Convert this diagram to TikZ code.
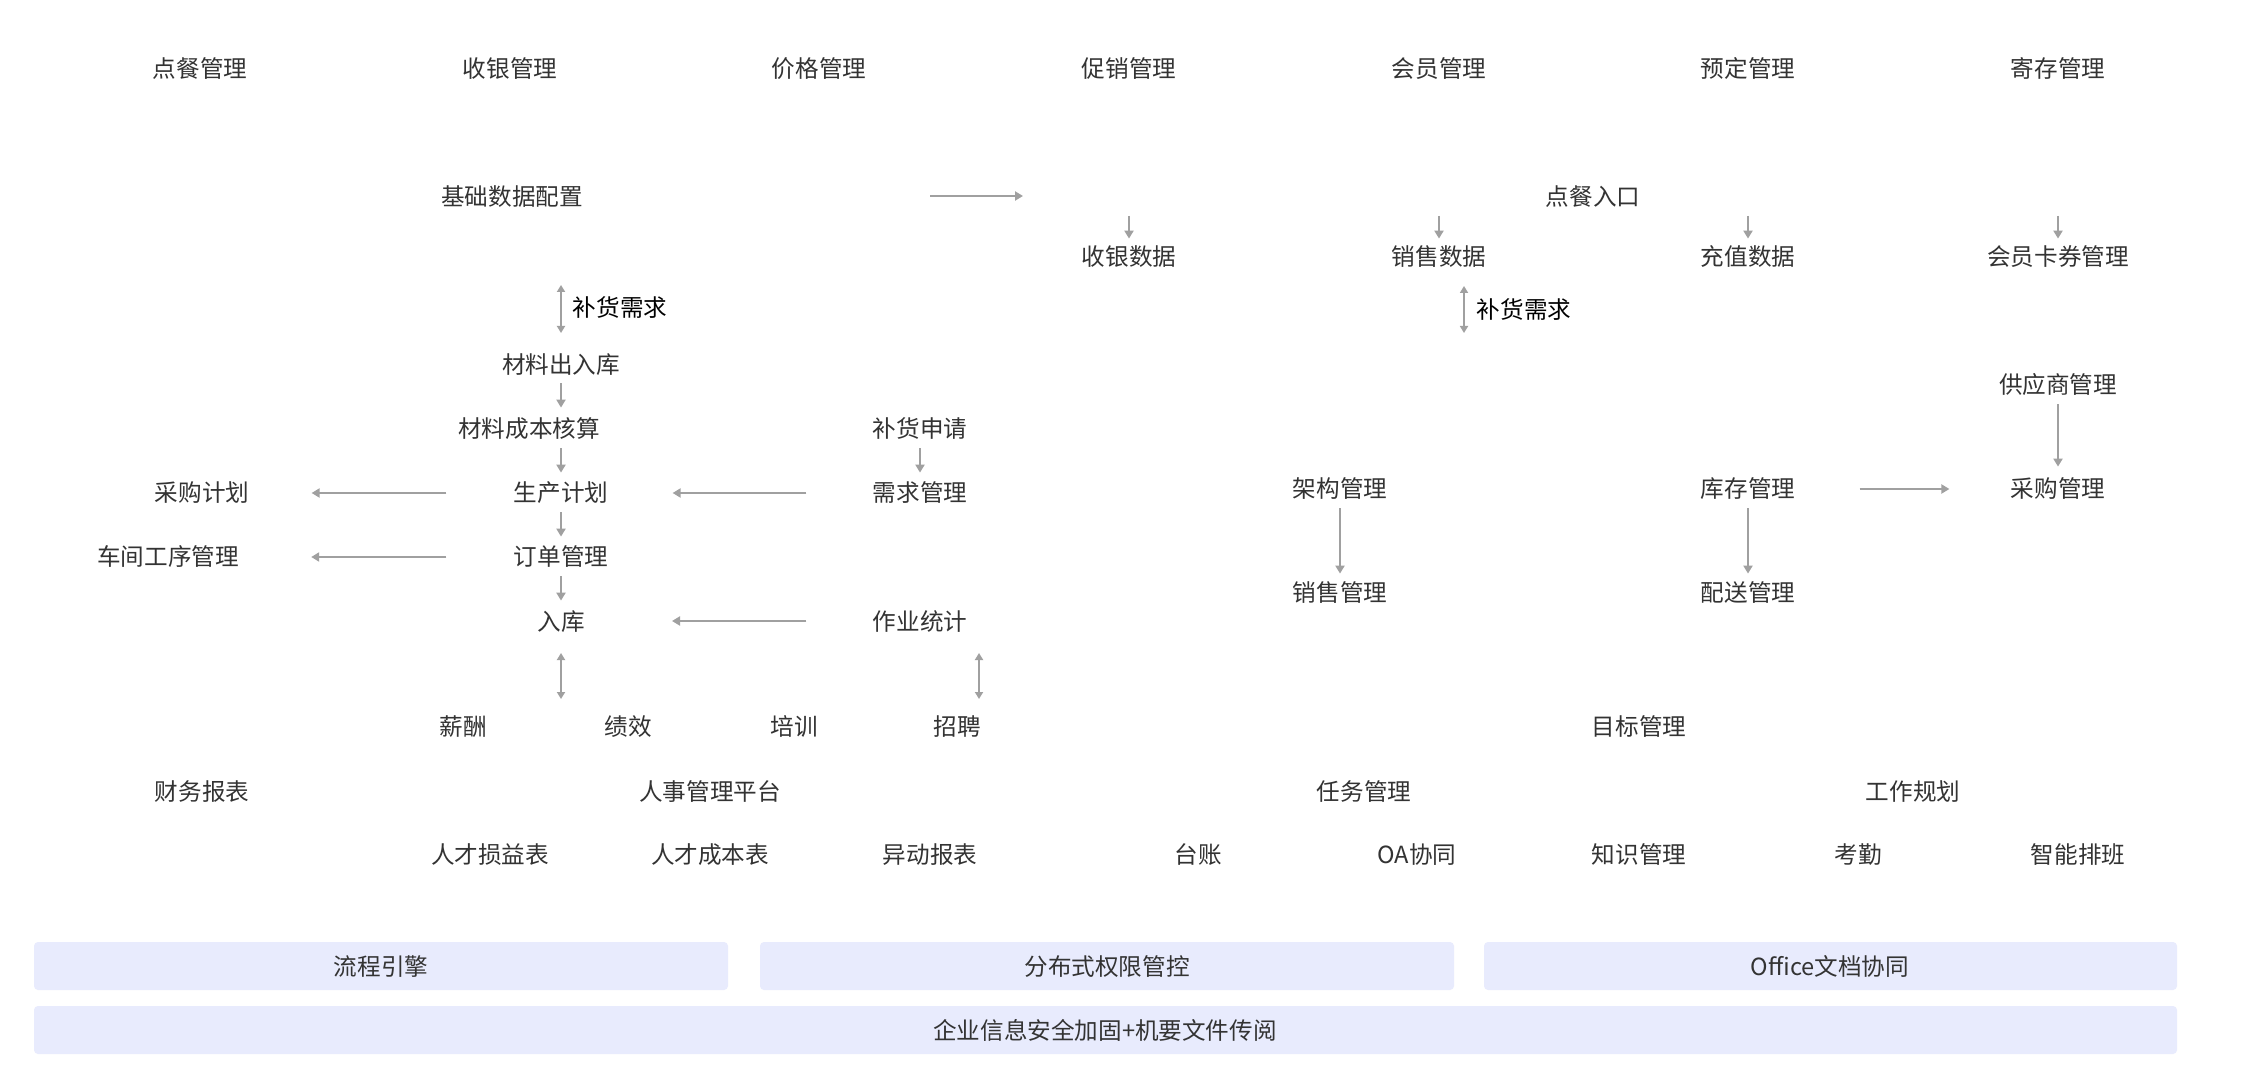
\documentclass[tikz,border=0pt]{standalone}
\usepackage{fontspec}
\setmainfont{Noto Sans CJK SC}
\usetikzlibrary{arrows.meta}
\definecolor{txt}{HTML}{333333}
\definecolor{arrc}{HTML}{A0A0A0}
\definecolor{boxfill}{HTML}{E8EBFD}
\tikzset{
  lbl/.style={inner sep=0pt, text height=10.5pt, text depth=1.5pt, text=txt,
    font=\fontsize{11.8}{14}\selectfont},
  lblk/.style={lbl, text=black},
  arr/.style={draw=arrc, line width=1pt, -{Triangle[length=4pt,width=4.5pt]}},
  darr/.style={draw=arrc, line width=0.9pt, {Triangle[length=3.5pt,width=4pt]}-{Triangle[length=3.5pt,width=4pt]}},
  band/.style={fill=boxfill, rounded corners=2pt, draw=none}
}
\begin{document}
\begin{tikzpicture}[x=0.5pt,y=-0.5pt]
\useasboundingbox (0,0) rectangle (2260,1080);
\fill[white] (0,0) rectangle (2260,1080);
% row 1
\node[lbl] (dcgl) at (200,69) {点餐管理};
\node[lbl] (sygl) at (510,69) {收银管理};
\node[lbl] (jggl) at (819,69) {价格管理};
\node[lbl] (cxgl) at (1129,69) {促销管理};
\node[lbl] (hygl) at (1439,69) {会员管理};
\node[lbl] (ydgl) at (1748,69) {预定管理};
\node[lbl] (jcgl) at (2058,69) {寄存管理};
% row 2
\node[lbl] (jcsj) at (512,197) {基础数据配置};
\node[lbl] (dcrk) at (1593,197) {点餐入口};
\coordinate (ja1) at (930,196);
\coordinate (ja2) at (1023,196);
\draw[arr] (ja1) -- (ja2);
% row 3
\node[lbl] (sysj) at (1129,257) {收银数据};
\node[lbl] (xssj) at (1439,257) {销售数据};
\node[lbl] (czsj) at (1748,257) {充值数据};
\node[lbl] (hykq) at (2058,257) {会员卡券管理};
\coordinate (d1) at (1129,216);
\coordinate (d2) at (1439,216);
\coordinate (d3) at (1748,216);
\coordinate (d4) at (2058,216);
\draw[arr, shorten >=3pt] (d1) -- (sysj.north);
\draw[arr, shorten >=3pt] (d2) -- (xssj.north);
\draw[arr, shorten >=3pt] (d3) -- (czsj.north);
\draw[arr, shorten >=3pt] (d4) -- (hykq.north);
% replenishment demand
\coordinate (b1a) at (561,285);
\coordinate (b1b) at (561,333);
\draw[darr] (b1a) -- (b1b);
\node[lblk] (bhxq1) at (620,308) {补货需求};
\coordinate (b2a) at (1464,286);
\coordinate (b2b) at (1464,333);
\draw[darr] (b2a) -- (b2b);
\node[lblk] (bhxq2) at (1524,310) {补货需求};
% left production chain
\node[lbl] (clcrk) at (561,365) {材料出入库};
\node[lbl] (clcb) at (529,429) {材料成本核算};
\node[lbl] (bhsq) at (920,429) {补货申请};
\node[lbl] (cgjh) at (202,493) {采购计划};
\node[lbl] (scjh) at (561,493) {生产计划};
\node[lbl] (xqgl) at (920,493) {需求管理};
\node[lbl] (cjgx) at (168,557) {车间工序管理};
\node[lbl] (ddgl) at (561,557) {订单管理};
\node[lbl] (ruku) at (561,621) {入库};
\node[lbl] (zytj) at (920,621) {作业统计};
\draw[arr, shorten <=3pt, shorten >=4.5pt] (clcrk.south) -- (clcrk.south |- clcb.north);
\draw[arr, shorten <=3.5pt, shorten >=4pt] (scjh.north |- clcb.south) -- (scjh.north);
\draw[arr, shorten <=3.5pt, shorten >=4pt] (scjh.south) -- (ddgl.north);
\draw[arr, shorten <=3.5pt, shorten >=4pt] (ddgl.south) -- (ruku.north);
\draw[arr, shorten <=3.5pt, shorten >=4pt] (bhsq.south) -- (xqgl.north);
\draw[arr, shorten <=33pt, shorten >=32pt] (xqgl.west) -- (scjh.east);
\draw[arr, shorten <=33.5pt, shorten >=31pt] (scjh.west) -- (cgjh.east);
\draw[arr, shorten <=33.5pt, shorten >=36pt] (ddgl.west) -- (cjgx.east);
\draw[arr, shorten <=33pt, shorten >=43.5pt] (zytj.west) -- (ruku.east);
\coordinate (r1a) at (561,653);
\coordinate (r1b) at (561,699);
\draw[darr] (r1a) -- (r1b);
\coordinate (r2a) at (979,653);
\coordinate (r2b) at (979,699);
\draw[darr] (r2a) -- (r2b);
% HR
\node[lbl] (xc) at (463,726) {薪酬};
\node[lbl] (jx) at (628,726) {绩效};
\node[lbl] (px) at (794,726) {培训};
\node[lbl] (zp) at (957,726) {招聘};
\node[lbl] (cwbb) at (202,791) {财务报表};
\node[lbl] (rsgl) at (710,791) {人事管理平台};
\node[lbl] (rcsy) at (490,854) {人才损益表};
\node[lbl] (rccb) at (710,854) {人才成本表};
\node[lbl] (ydbb) at (930,854) {异动报表};
% right side
\node[lbl] (gys) at (2058,385) {供应商管理};
\node[lbl] (jggl2) at (1340,489) {架构管理};
\node[lbl] (kcgl) at (1748,489) {库存管理};
\node[lbl] (cggl) at (2058,489) {采购管理};
\node[lbl] (xsgl) at (1340,592) {销售管理};
\node[lbl] (psgl) at (1748,592) {配送管理};
\draw[arr, shorten <=3.5pt, shorten >=5pt] (gys.south) -- (cggl.north);
\draw[arr, shorten <=32pt, shorten >=30.5pt] (kcgl.east) -- (cggl.west);
\draw[arr, shorten <=3.5pt, shorten >=3pt] (jggl2.south) -- (xsgl.north);
\draw[arr, shorten <=3.5pt, shorten >=3pt] (kcgl.south) -- (psgl.north);
\node[lbl] (mbgl) at (1639,726) {目标管理};
\node[lbl] (rwgl) at (1364,791) {任务管理};
\node[lbl] (gzgh) at (1913,791) {工作规划};
\node[lbl] (tz) at (1198,854) {台账};
\node[lbl] (oa) at (1417,854) {OA协同};
\node[lbl] (zsgl) at (1639,854) {知识管理};
\node[lbl] (kq) at (1858,854) {考勤};
\node[lbl] (znpb) at (2078,854) {智能排班};
% bottom bands
\fill[band] (34,942) rectangle (728,990);
\fill[band] (760,942) rectangle (1454,990);
\fill[band] (1484,942) rectangle (2177,990);
\fill[band] (34,1006) rectangle (2177,1054);
\node[lbl] (lcyq) at (381,966) {流程引擎};
\node[lbl] (fbs) at (1107,966) {分布式权限管控};
\node[lbl] (office) at (1830,966) {Office文档协同};
\node[lbl] (qyxx) at (1105,1030) {企业信息安全加固+机要文件传阅};
\end{tikzpicture}
\end{document}
